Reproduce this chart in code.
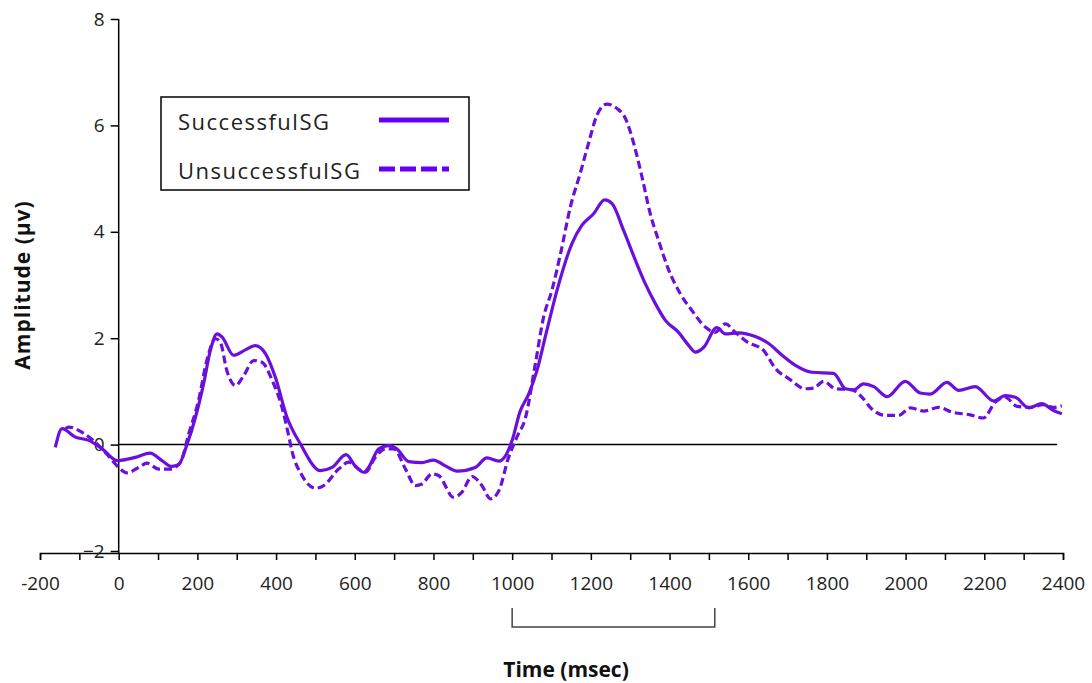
<!DOCTYPE html>
<html>
<head>
<meta charset="utf-8">
<script src="https://cdn.jsdelivr.net/npm/d3@7"></script>
<style>
  body { margin: 0; background: #fff; }
  .axis text { font-family: "Open Sans", sans-serif; font-size: 19px; fill: #222; }
  .title { font-family: "Open Sans", sans-serif; font-weight: bold; font-size: 21px; fill: #111; }
  .legend text { font-family: "Open Sans", sans-serif; font-size: 22px; letter-spacing: 1.5px; fill: #222; }
</style>
</head>
<body>
<div id="chart"></div>
<script>
const successTime = [-161, -144, -110, -76, -42, -4, 42, 80, 110, 135, 152, 174, 195, 216, 233, 250, 263, 292, 322, 347, 373, 398, 428, 462, 513, 542, 578, 601, 623, 635, 661, 686, 707, 737, 771, 800, 830, 860, 906, 936, 966, 983, 1000, 1020, 1042, 1063, 1084, 1114, 1152, 1177, 1207, 1235, 1254, 1283, 1313, 1338, 1364, 1389, 1423, 1449, 1466, 1487, 1520, 1542, 1576, 1618, 1652, 1686, 1720, 1762, 1817, 1847, 1868, 1893, 1919, 1953, 1999, 2037, 2063, 2105, 2135, 2177, 2224, 2253, 2279, 2313, 2346, 2376, 2397];
const successAmp = [-0.05, 0.3, 0.14, 0.08, -0.08, -0.3, -0.24, -0.16, -0.3, -0.41, -0.38, 0.01, 0.51, 1.15, 1.77, 2.08, 2.02, 1.68, 1.78, 1.86, 1.71, 1.27, 0.51, 0.01, -0.49, -0.43, -0.19, -0.4, -0.52, -0.43, -0.08, -0.02, -0.08, -0.32, -0.34, -0.29, -0.4, -0.5, -0.43, -0.25, -0.31, -0.21, 0.08, 0.62, 0.95, 1.39, 2.02, 2.9, 3.78, 4.12, 4.34, 4.6, 4.53, 4.03, 3.47, 3.03, 2.65, 2.34, 2.11, 1.86, 1.74, 1.83, 2.2, 2.08, 2.1, 2.03, 1.9, 1.68, 1.49, 1.36, 1.34, 1.05, 1.03, 1.14, 1.09, 0.9, 1.19, 0.97, 0.95, 1.17, 1.02, 1.09, 0.82, 0.92, 0.89, 0.69, 0.77, 0.64, 0.58];

const unsuccessTime = [-135, -127, -93, -59, -30, 0, 21, 51, 72, 102, 131, 157, 178, 203, 224, 246, 258, 275, 297, 318, 343, 364, 390, 415, 432, 440, 466, 500, 521, 559, 585, 610, 627, 652, 678, 699, 729, 754, 771, 796, 813, 851, 872, 898, 923, 945, 966, 991, 1012, 1034, 1059, 1080, 1101, 1123, 1148, 1173, 1194, 1216, 1241, 1266, 1288, 1309, 1330, 1351, 1372, 1398, 1427, 1457, 1491, 1516, 1542, 1567, 1597, 1639, 1669, 1703, 1745, 1766, 1792, 1821, 1864, 1889, 1914, 1948, 1982, 2012, 2046, 2084, 2118, 2164, 2198, 2228, 2253, 2283, 2317, 2351, 2376, 2397];
const unsuccessAmp = [0.3, 0.33, 0.23, 0.04, -0.18, -0.43, -0.53, -0.43, -0.35, -0.46, -0.46, -0.33, 0.2, 0.83, 1.58, 1.99, 1.93, 1.39, 1.11, 1.3, 1.58, 1.55, 1.21, 0.7, 0.17, -0.11, -0.58, -0.82, -0.77, -0.46, -0.33, -0.46, -0.52, -0.24, -0.08, -0.08, -0.46, -0.77, -0.74, -0.55, -0.58, -0.99, -0.9, -0.6, -0.77, -1.02, -0.87, -0.24, 0.14, 0.51, 1.52, 2.4, 2.9, 3.59, 4.47, 5.1, 5.66, 6.2, 6.4, 6.32, 6.13, 5.66, 5.03, 4.34, 3.84, 3.28, 2.84, 2.52, 2.21, 2.11, 2.27, 2.11, 1.93, 1.77, 1.43, 1.24, 1.05, 1.06, 1.19, 1.05, 1.03, 0.89, 0.67, 0.55, 0.55, 0.69, 0.63, 0.7, 0.61, 0.56, 0.5, 0.8, 0.89, 0.72, 0.7, 0.75, 0.7, 0.73];

const seriesNames = ["SuccessfulSG", "UnsuccessfulSG"];
const yTicks = [-2, 0, 2, 4, 6, 8];
const xTicks = [-200, 0, 200, 400, 600, 800, 1000, 1200, 1400, 1600, 1800, 2000, 2200, 2400];
const window1 = [1000, 1515];

const drawChart = () => {
  const dimensions = {
    width: 1092,
    height: 683,
    left: 40,
    right: 1063,
    top: 19,
    bottom: 551,
    axisY: 553,
  };

  const svg = d3
    .select("#chart")
    .append("svg")
    .attr("width", dimensions.width)
    .attr("height", dimensions.height);

  // Scales
  const xScale = d3
    .scaleLinear()
    .domain([-200, 2400])
    .range([dimensions.left, dimensions.right]);

  const yScale = d3
    .scaleLinear()
    .domain([-2, 8])
    .range([dimensions.bottom, dimensions.top]);

  // Axes
  const xAxis = d3
    .axisBottom(xScale)
    .tickValues(d3.range(-200, 2401, 100))
    .tickSize(7)
    .tickFormat((d) => (xTicks.includes(d) ? d : ""));
  const xAxisGroup = svg
    .append("g")
    .attr("class", "axis")
    .attr("transform", `translate(0,${dimensions.axisY})`)
    .call(xAxis);
  xAxisGroup.select(".domain").attr("stroke", "#000").attr("stroke-width", 1.5);
  xAxisGroup.selectAll(".tick line").attr("stroke", "#000").attr("stroke-width", 1.5);
  xAxisGroup.selectAll(".tick text").attr("y", 24);

  const yAxis = d3
    .axisLeft(yScale)
    .tickValues(yTicks)
    .tickSize(8)
    .tickSizeOuter(0)
    .tickPadding(6)
    .tickFormat(d3.format("d"));
  const yAxisGroup = svg
    .append("g")
    .attr("class", "axis")
    .attr("transform", `translate(${xScale(0)},0)`)
    .call(yAxis);
  yAxisGroup
    .select(".domain")
    .attr("d", `M0,${yScale(8)}V${dimensions.axisY}`)
    .attr("stroke", "#000")
    .attr("stroke-width", 1.5);
  yAxisGroup.selectAll(".tick line").attr("stroke", "#000").attr("stroke-width", 1.5);

  // zero line
  svg
    .append("line")
    .attr("x1", xScale(0))
    .attr("x2", xScale(2385))
    .attr("y1", yScale(0))
    .attr("y2", yScale(0))
    .attr("stroke", "#000")
    .attr("stroke-width", 1.5);

  // Lines
  const line = d3
    .line()
    .x((d) => xScale(d[0]))
    .y((d) => yScale(d[1]))
    .curve(d3.curveMonotoneX);

  const series = [
    { name: seriesNames[0], data: d3.zip(successTime, successAmp), dash: null },
    { name: seriesNames[1], data: d3.zip(unsuccessTime, unsuccessAmp), dash: "8,4" },
  ];

  svg
    .append("g")
    .selectAll("path")
    .data(series)
    .join("path")
    .attr("d", (d) => line(d.data))
    .attr("fill", "none")
    .attr("stroke", "#6b10dc")
    .attr("stroke-width", 3.2)
    .attr("stroke-dasharray", (d) => d.dash);

  // Legend
  const legend = svg.append("g").attr("class", "legend");
  legend
    .append("rect")
    .attr("x", 161)
    .attr("y", 97)
    .attr("width", 308)
    .attr("height", 93)
    .attr("fill", "#fff")
    .attr("stroke", "#000")
    .attr("stroke-width", 1.5);
  const item = legend
    .selectAll("g")
    .data(series)
    .join("g")
    .attr("transform", (d, i) => `translate(0,${120 + i * 49})`);
  item
    .append("text")
    .attr("x", 178)
    .attr("y", 2)
    .attr("dy", "0.35em")
    .text((d) => d.name);
  item
    .append("line")
    .attr("x1", 379)
    .attr("x2", 449)
    .attr("stroke", "#6600f5")
    .attr("stroke-width", 5)
    .attr("stroke-dasharray", (d) => (d.dash ? "16,5" : null));

  // Bracket under the axis
  svg
    .append("path")
    .attr(
      "d",
      `M${xScale(window1[0])},608 V627 H${xScale(window1[1])} V608`
    )
    .attr("fill", "none")
    .attr("stroke", "#444")
    .attr("stroke-width", 1.5);

  // Titles
  svg
    .append("text")
    .attr("class", "title")
    .attr("x", 566)
    .attr("y", 670)
    .attr("dy", "0.35em")
    .attr("text-anchor", "middle")
    .text("Time (msec)");

  svg
    .append("text")
    .attr("class", "title")
    .attr("transform", "translate(23,285) rotate(-90)")
    .attr("dy", "0.35em")
    .attr("text-anchor", "middle")
    .style("letter-spacing", "1px")
    .text("Amplitude (µv)");
};

drawChart();
</script>
</body>
</html>
